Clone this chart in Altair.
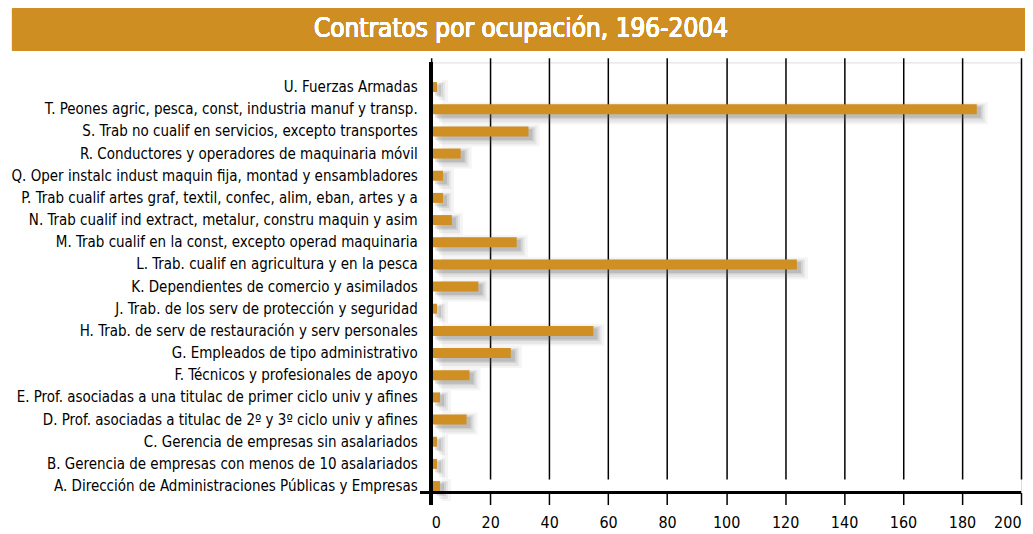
import altair as alt
import pandas as pd

title_text = "Contratos por ocupación, 196-2004"

categories = [
    "U. Fuerzas Armadas",
    "T. Peones agric, pesca, const, industria manuf y transp.",
    "S. Trab no cualif en servicios, excepto transportes",
    "R. Conductores y operadores de maquinaria móvil",
    "Q. Oper instalc indust maquin fija, montad y ensambladores",
    "P. Trab cualif artes graf, textil, confec, alim, eban, artes y a",
    "N. Trab cualif ind extract, metalur, constru maquin y asim",
    "M. Trab cualif en la const, excepto operad maquinaria",
    "L. Trab. cualif en agricultura y en la pesca",
    "K. Dependientes de comercio y asimilados",
    "J. Trab. de los serv de protección y seguridad",
    "H. Trab. de serv de restauración y serv personales",
    "G. Empleados de tipo administrativo",
    "F. Técnicos y profesionales de apoyo",
    "E. Prof. asociadas a una titulac de primer ciclo univ y afines",
    "D. Prof. asociadas a titulac de 2º y 3º ciclo univ y afines",
    "C. Gerencia de empresas sin asalariados",
    "B. Gerencia de empresas con menos de 10 asalariados",
    "A. Dirección de Administraciones Públicas y Empresas",
]
values = [2, 185, 33, 10, 4, 4, 7, 29, 124, 16, 2, 55, 27, 13, 3, 12, 2, 2, 3]
x_ticks = [0, 20, 40, 60, 80, 100, 120, 140, 160, 180, 200]

df = pd.DataFrame({"cat": categories, "val": values})

W, H = 591, 431
FONT = "DejaVu Sans Condensed, Liberation Sans Narrow, Roboto, sans-serif"
GOLD = "#D08F22"

x_enc = alt.X("val:Q", scale=alt.Scale(domain=[0, 200], nice=False),
              axis=alt.Axis(values=x_ticks, title=None, grid=True, gridColor="black",
                            gridWidth=1.5, gridOpacity=1, domain=False,
                            tickColor="black", tickSize=12, tickWidth=1.5,
                            labelFont=FONT, labelFontSize=16, labelColor="black",
                            labelPadding=10))
y_enc = alt.Y("cat:N", sort=categories,
              scale=alt.Scale(range=[13.6, 435.6], paddingInner=0.55, paddingOuter=0.275),
              axis=alt.Axis(title=None, ticks=False, domain=False, labelFont=FONT,
                            labelFontSize=15, labelColor="black", labelPadding=14,
                            labelLimit=420))

base = alt.Chart(df)

shadows = [
    base.mark_bar(size=22, color="#666666", opacity=0.07, xOffset=11, yOffset=4).encode(x=x_enc, y=y_enc),
    base.mark_bar(size=18, color="#666666", opacity=0.10, xOffset=8, yOffset=4).encode(x=x_enc, y=y_enc),
    base.mark_bar(size=14, color="#666666", opacity=0.14, xOffset=6, yOffset=3).encode(x=x_enc, y=y_enc),
    base.mark_bar(size=11, color="#555555", opacity=0.18, xOffset=4, yOffset=3).encode(x=x_enc, y=y_enc),
]
bars = base.mark_bar(size=10, color=GOLD).encode(x=x_enc, y=y_enc)

banner = alt.Chart(df).mark_rect(color="#CF8E22").encode(
    x=alt.value(-420), x2=alt.value(595), y=alt.value(-54), y2=alt.value(-12))
title = alt.Chart(df).mark_text(font="DejaVu Sans Condensed", fontSize=26, color="white",
                                align="center", baseline="middle").encode(
    x=alt.value(90), y=alt.value(-33), text=alt.value(title_text))

yaxis_line = alt.Chart(df).mark_rule(color="black", strokeWidth=3).encode(
    x=alt.value(0), y=alt.value(0), y2=alt.value(443))
xaxis_line = alt.Chart(df).mark_rule(color="black", strokeWidth=3).encode(
    x=alt.value(-11), x2=alt.value(W), y=alt.value(H))

chart = alt.layer(*shadows, bars, banner, title, yaxis_line, xaxis_line).properties(
    width=W, height=H,
    padding={"left": 2, "top": 0, "right": 0, "bottom": 0},
).configure_view(stroke=None).configure(background="white")

chart.save("out.html", embed_options={"renderer": "svg", "actions": False})
